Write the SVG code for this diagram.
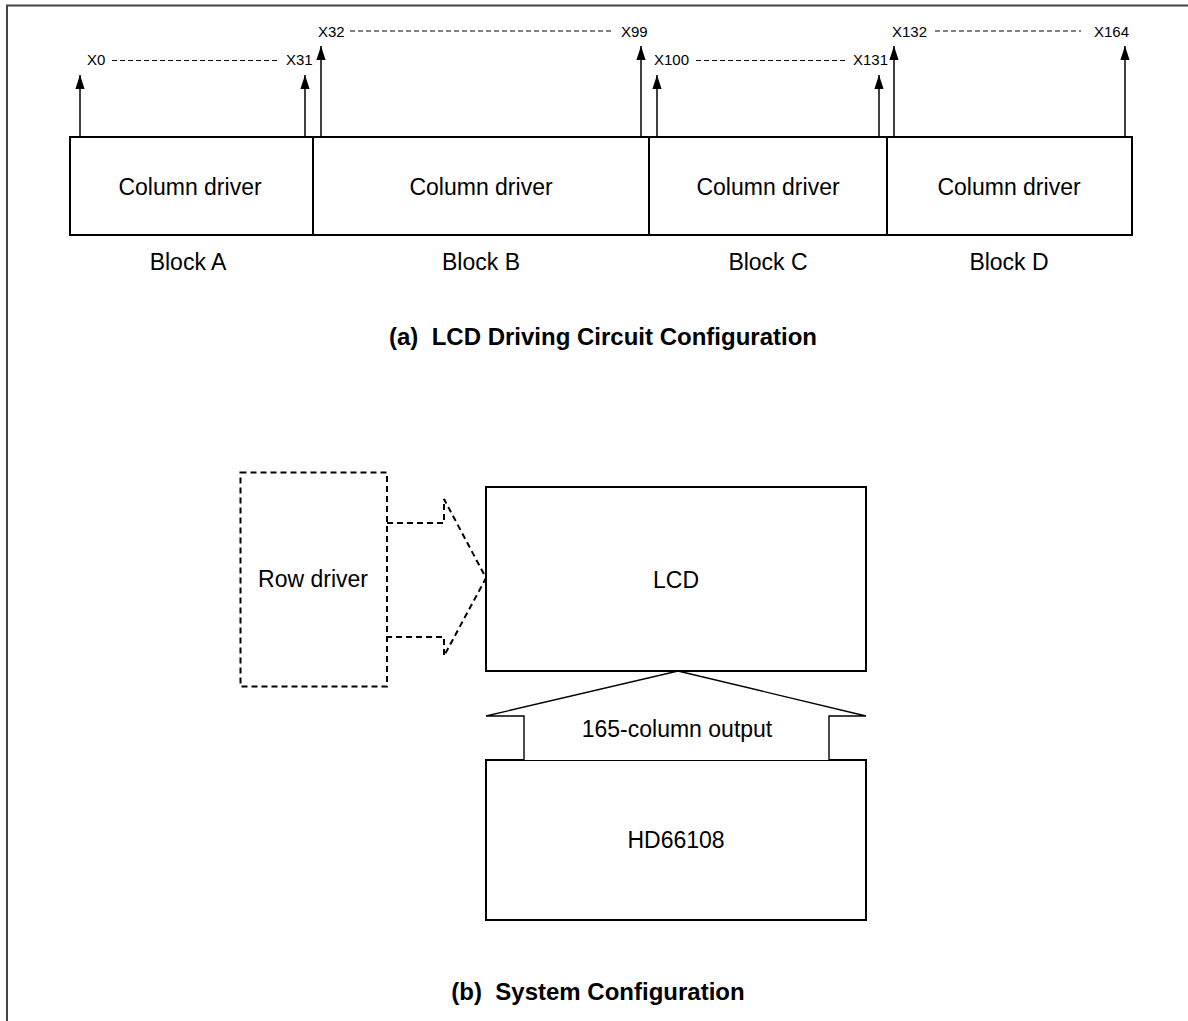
<svg xmlns="http://www.w3.org/2000/svg" width="1188" height="1021" viewBox="0 0 1188 1021">
<style>
text{font-family:"Liberation Sans",Arial,sans-serif;fill:#000}
.lbl{font-size:23px;text-anchor:middle}
.xl{font-size:15px}
.ttl{font-size:24px;font-weight:bold;text-anchor:middle}
.box{fill:#fff;stroke:#000;stroke-width:2}
.dash{stroke:#000;stroke-width:1.2;stroke-dasharray:5,3;fill:none}
.arr{stroke:#000;stroke-width:1.5;fill:none;marker-end:url(#ah)}
.dbox{fill:none;stroke:#000;stroke-width:2;stroke-dasharray:6,4}
.frame{stroke:#444;stroke-width:2;fill:none}
</style>
<defs>
<marker id="ah" viewBox="0 -6 16 12" markerWidth="16" markerHeight="12" refX="14" refY="0" orient="auto" markerUnits="userSpaceOnUse">
<path d="M0,-4.6 L14,0 L0,4.6 z" fill="#000"/>
</marker>
</defs>
<rect width="1188" height="1021" fill="#fff"/>
<path class="frame" d="M7,1021 V5.5 H1188"/>

<g id="column-drivers">
<rect class="box" x="70" y="137" width="1062" height="98"/>
<line x1="313" y1="137" x2="313" y2="235" stroke="#000" stroke-width="2"/>
<line x1="649" y1="137" x2="649" y2="235" stroke="#000" stroke-width="2"/>
<line x1="887" y1="137" x2="887" y2="235" stroke="#000" stroke-width="2"/>
<text class="lbl" x="190" y="195">Column driver</text>
<text class="lbl" x="481" y="195">Column driver</text>
<text class="lbl" x="768" y="195">Column driver</text>
<text class="lbl" x="1009" y="195">Column driver</text>
</g>

<g id="block-labels">
<text class="lbl" x="188" y="270">Block A</text>
<text class="lbl" x="481" y="270">Block B</text>
<text class="lbl" x="768" y="270">Block C</text>
<text class="lbl" x="1009" y="270">Block D</text>
</g>

<g id="outputs">
<line class="arr" x1="80" y1="137" x2="80" y2="75"/>
<line class="arr" x1="305" y1="137" x2="305" y2="75"/>
<line class="arr" x1="321" y1="137" x2="321" y2="46"/>
<line class="arr" x1="641" y1="137" x2="641" y2="46"/>
<line class="arr" x1="657" y1="137" x2="657" y2="75"/>
<line class="arr" x1="879" y1="137" x2="879" y2="75"/>
<line class="arr" x1="894" y1="137" x2="894" y2="46"/>
<line class="arr" x1="1125" y1="137" x2="1125" y2="46"/>
<text class="xl" x="87" y="65">X0</text>
<line class="dash" x1="112" y1="60.5" x2="279" y2="60.5"/>
<text class="xl" x="286" y="65">X31</text>
<text class="xl" x="318" y="37">X32</text>
<line class="dash" x1="350" y1="31" x2="613" y2="31"/>
<text class="xl" x="621" y="37">X99</text>
<text class="xl" x="654" y="65">X100</text>
<line class="dash" x1="696" y1="60.5" x2="848" y2="60.5"/>
<text class="xl" x="853" y="65">X131</text>
<text class="xl" x="892" y="37">X132</text>
<line class="dash" x1="935" y1="31" x2="1081" y2="31"/>
<text class="xl" x="1094" y="37">X164</text>
</g>

<text class="ttl" x="603" y="345" xml:space="preserve">(a)  LCD Driving Circuit Configuration</text>

<g id="row-driver">
<rect class="dbox" x="240.5" y="472.5" width="146.5" height="214"/>
<text class="lbl" x="313" y="587">Row driver</text>
</g>

<g id="lcd">
<rect class="box" x="486" y="487" width="380" height="184"/>
<text class="lbl" x="676" y="588">LCD</text>
</g>

<g id="hd66108">
<rect class="box" x="486" y="760" width="380" height="160"/>
<text class="lbl" x="676" y="848">HD66108</text>
</g>

<g id="connectors">
<path class="dbox" d="M387,523 H444 V499 L486,578 L444,656 V637 H387"/>
<path d="M524,760 V716 H486 L678,671 L866,716 H829 V760" fill="#fff" stroke="#000" stroke-width="1.4" stroke-linejoin="miter"/>
<text class="lbl" x="677" y="737">165-column output</text>
</g>

<text class="ttl" x="598" y="1000" xml:space="preserve">(b)  System Configuration</text>
</svg>
